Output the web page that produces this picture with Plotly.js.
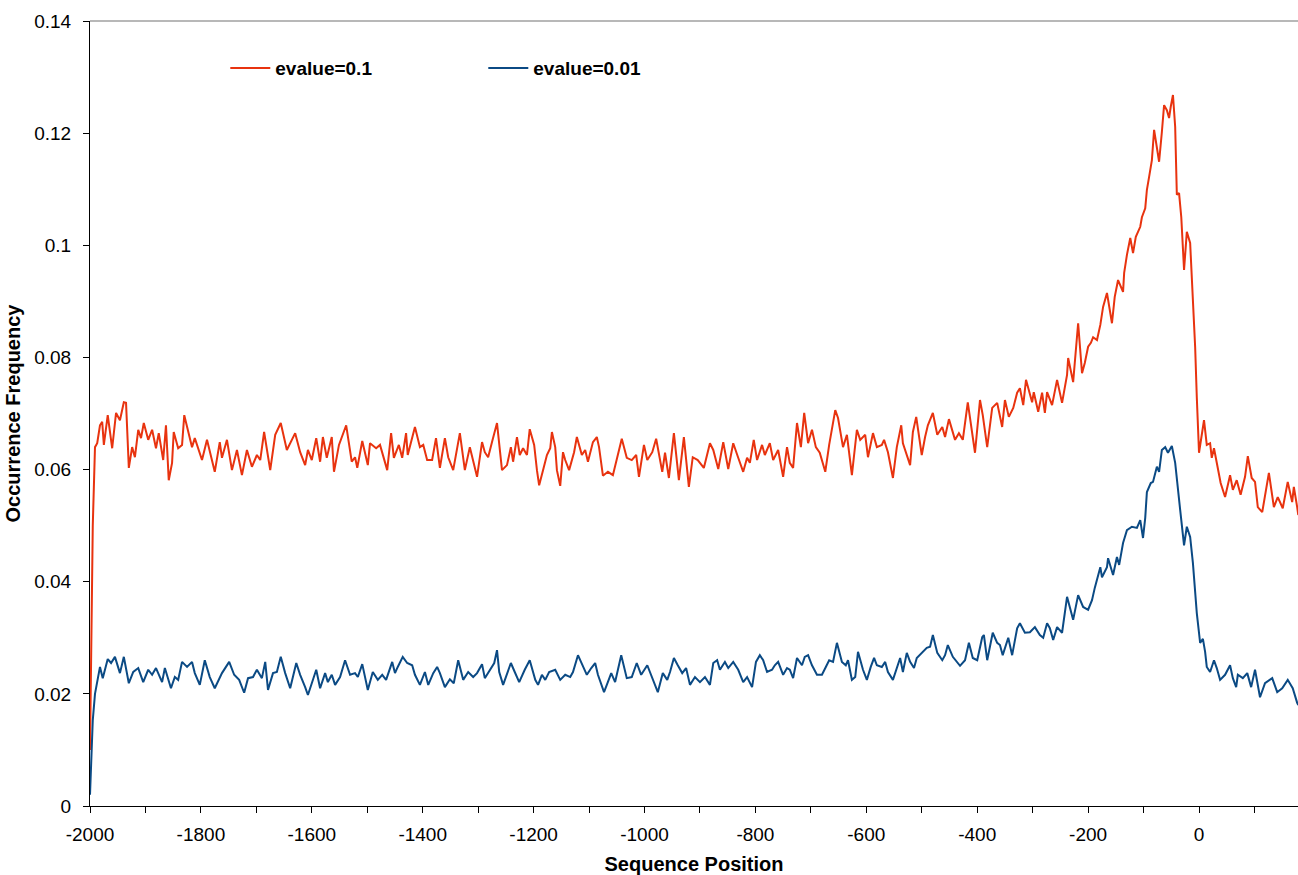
<!DOCTYPE html>
<html>
<head>
<meta charset="utf-8">
<script src="https://cdn.plot.ly/plotly-3.0.1.min.js"></script>
<style>
  html, body { margin: 0; padding: 0; background: #ffffff; }
  #chart { width: 1298px; height: 875px; }
</style>
</head>
<body>
<div id="chart"></div>
<script>
// ---- Data ----
const seriesNames = ["evalue=0.1", "evalue=0.01"];

const redPos = [-2000,-1998,-1995,-1991,-1987,-1982,-1978,-1975,-1968,-1960,-1953,-1946,-1939,-1935,-1930,-1924,-1919,-1913,-1908,-1903,-1895,-1888,-1881,-1876,-1868,-1863,-1858,-1852,-1849,-1841,-1834,-1830,-1823,-1816,-1811,-1798,-1789,-1775,-1766,-1762,-1753,-1744,-1735,-1726,-1717,-1708,-1699,-1693,-1686,-1675,-1666,-1656,-1645,-1630,-1621,-1612,-1607,-1600,-1592,-1585,-1580,-1573,-1564,-1560,-1551,-1544,-1538,-1528,-1522,-1518,-1509,-1499,-1495,-1484,-1477,-1464,-1457,-1452,-1443,-1437,-1430,-1427,-1414,-1405,-1399,-1392,-1383,-1376,-1369,-1360,-1354,-1345,-1333,-1324,-1315,-1302,-1293,-1288,-1282,-1275,-1266,-1257,-1248,-1241,-1237,-1230,-1225,-1219,-1212,-1207,-1199,-1194,-1190,-1183,-1176,-1170,-1167,-1161,-1158,-1152,-1147,-1143,-1136,-1127,-1122,-1113,-1107,-1102,-1093,-1086,-1082,-1075,-1066,-1057,-1050,-1041,-1032,-1023,-1015,-1010,-1001,-995,-986,-979,-968,-963,-956,-947,-938,-929,-920,-913,-904,-893,-882,-876,-867,-858,-849,-840,-831,-822,-815,-810,-803,-797,-788,-783,-774,-768,-759,-750,-743,-738,-732,-725,-718,-712,-705,-698,-691,-684,-674,-667,-656,-651,-642,-635,-626,-617,-611,-602,-597,-588,-581,-572,-568,-561,-552,-545,-537,-534,-521,-516,-510,-500,-494,-489,-480,-472,-463,-458,-451,-440,-433,-426,-417,-404,-395,-390,-382,-373,-364,-355,-350,-343,-335,-328,-323,-317,-312,-301,-298,-290,-283,-278,-274,-265,-256,-247,-238,-236,-227,-218,-211,-206,-200,-195,-191,-184,-178,-173,-166,-157,-152,-146,-137,-135,-130,-124,-119,-114,-106,-103,-97,-94,-90,-85,-81,-76,-72,-67,-63,-58,-54,-51,-47,-43,-40,-36,-32,-27,-22,-16,-11,-7,-4,0,9,14,20,23,27,32,39,47,56,61,68,75,83,88,95,101,106,114,119,126,135,142,151,160,168,171,177,179];
const redVal = [0.0100,0.0300,0.0500,0.0640,0.0647,0.0679,0.0685,0.0644,0.0697,0.0638,0.0701,0.0688,0.0720,0.0719,0.0603,0.0640,0.0622,0.0671,0.0656,0.0683,0.0653,0.0671,0.0638,0.0665,0.0617,0.0679,0.0581,0.0612,0.0667,0.0638,0.0644,0.0697,0.0667,0.0640,0.0656,0.0617,0.0653,0.0596,0.0649,0.0621,0.0653,0.0599,0.0635,0.0590,0.0635,0.0605,0.0626,0.0617,0.0667,0.0599,0.0662,0.0683,0.0635,0.0665,0.0631,0.0608,0.0635,0.0617,0.0656,0.0614,0.0658,0.0621,0.0658,0.0596,0.0644,0.0665,0.0679,0.0614,0.0622,0.0603,0.0651,0.0608,0.0647,0.0638,0.0644,0.0599,0.0665,0.0621,0.0644,0.0621,0.0665,0.0626,0.0676,0.0640,0.0644,0.0617,0.0617,0.0656,0.0603,0.0656,0.0622,0.0599,0.0665,0.0599,0.0640,0.0587,0.0649,0.0631,0.0622,0.0649,0.0683,0.0599,0.0608,0.0640,0.0614,0.0658,0.0626,0.0638,0.0626,0.0672,0.0644,0.0599,0.0572,0.0599,0.0626,0.0638,0.0667,0.0640,0.0599,0.0571,0.0631,0.0617,0.0599,0.0631,0.0658,0.0626,0.0635,0.0614,0.0649,0.0658,0.0640,0.0589,0.0596,0.0590,0.0617,0.0655,0.0621,0.0617,0.0626,0.0587,0.0644,0.0617,0.0631,0.0655,0.0596,0.0630,0.0585,0.0665,0.0581,0.0658,0.0569,0.0622,0.0617,0.0603,0.0647,0.0635,0.0601,0.0649,0.0601,0.0647,0.0621,0.0596,0.0621,0.0612,0.0653,0.0617,0.0644,0.0626,0.0647,0.0617,0.0635,0.0587,0.0640,0.0612,0.0603,0.0683,0.0640,0.0701,0.0647,0.0671,0.0640,0.0630,0.0596,0.0644,0.0706,0.0692,0.0640,0.0662,0.0590,0.0671,0.0653,0.0662,0.0622,0.0665,0.0640,0.0644,0.0653,0.0631,0.0585,0.0640,0.0679,0.0647,0.0608,0.0667,0.0694,0.0626,0.0658,0.0679,0.0701,0.0662,0.0676,0.0658,0.0690,0.0653,0.0665,0.0653,0.0720,0.0630,0.0724,0.0697,0.0640,0.0710,0.0719,0.0676,0.0724,0.0694,0.0710,0.0737,0.0745,0.0715,0.0760,0.0720,0.0738,0.0703,0.0737,0.0701,0.0738,0.0715,0.0760,0.0719,0.0769,0.0799,0.0756,0.0861,0.0772,0.0790,0.0819,0.0826,0.0836,0.0831,0.0858,0.0890,0.0915,0.0861,0.0908,0.0938,0.0917,0.0951,0.0983,0.1013,0.0986,0.1015,0.1033,0.1050,0.1066,0.1099,0.1122,0.1152,0.1206,0.1175,0.1149,0.1202,0.1250,0.1241,0.1227,0.1247,0.1268,0.1211,0.1090,0.1093,0.1050,0.0956,0.1024,0.1004,0.0908,0.0819,0.0729,0.0630,0.0688,0.0644,0.0647,0.0621,0.0638,0.0614,0.0576,0.0551,0.0590,0.0564,0.0581,0.0555,0.0587,0.0624,0.0585,0.0578,0.0533,0.0524,0.0551,0.0594,0.0533,0.0551,0.0531,0.0578,0.0542,0.0569,0.0533,0.0519];

const bluePos = [-2000,-1998,-1995,-1991,-1987,-1982,-1977,-1968,-1962,-1955,-1946,-1939,-1930,-1922,-1913,-1904,-1895,-1888,-1881,-1870,-1865,-1854,-1847,-1841,-1834,-1825,-1816,-1811,-1802,-1793,-1784,-1775,-1762,-1749,-1740,-1731,-1722,-1715,-1706,-1699,-1690,-1684,-1679,-1670,-1663,-1656,-1648,-1639,-1628,-1621,-1612,-1607,-1600,-1592,-1585,-1576,-1571,-1564,-1558,-1549,-1540,-1531,-1522,-1517,-1509,-1499,-1490,-1481,-1473,-1466,-1455,-1450,-1445,-1436,-1428,-1419,-1414,-1405,-1396,-1390,-1381,-1374,-1369,-1360,-1351,-1344,-1336,-1327,-1318,-1309,-1302,-1293,-1288,-1279,-1271,-1266,-1262,-1255,-1248,-1241,-1234,-1226,-1216,-1207,-1197,-1192,-1185,-1179,-1172,-1161,-1152,-1143,-1134,-1129,-1120,-1111,-1104,-1096,-1089,-1084,-1073,-1068,-1060,-1053,-1042,-1032,-1023,-1014,-1006,-995,-986,-976,-967,-959,-954,-947,-940,-932,-925,-918,-909,-900,-891,-882,-876,-869,-864,-855,-849,-840,-831,-822,-815,-806,-799,-792,-786,-779,-770,-765,-759,-750,-743,-738,-732,-725,-716,-711,-705,-698,-689,-680,-673,-667,-660,-653,-644,-637,-633,-626,-620,-615,-606,-599,-592,-586,-581,-572,-566,-561,-552,-545,-539,-534,-527,-521,-514,-509,-500,-491,-485,-480,-472,-463,-458,-453,-444,-436,-431,-422,-415,-408,-400,-391,-388,-382,-377,-372,-364,-359,-354,-344,-337,-328,-323,-314,-305,-296,-287,-281,-274,-269,-263,-256,-247,-238,-227,-218,-209,-200,-193,-188,-178,-175,-166,-164,-155,-148,-144,-137,-130,-121,-112,-106,-101,-97,-94,-87,-83,-76,-72,-67,-61,-56,-49,-43,-34,-27,-22,-16,-11,-4,2,7,11,14,20,27,32,38,47,56,61,67,70,79,87,94,101,110,119,132,141,150,160,169,177,179];
const blueVal = [0.0020,0.0080,0.0153,0.0200,0.0221,0.0248,0.0228,0.0262,0.0255,0.0266,0.0237,0.0266,0.0219,0.0239,0.0246,0.0221,0.0243,0.0234,0.0246,0.0221,0.0246,0.0210,0.0230,0.0225,0.0257,0.0248,0.0257,0.0237,0.0216,0.0260,0.0230,0.0210,0.0237,0.0257,0.0234,0.0225,0.0202,0.0228,0.0230,0.0243,0.0228,0.0257,0.0207,0.0237,0.0239,0.0266,0.0237,0.0210,0.0255,0.0234,0.0212,0.0198,0.0219,0.0243,0.0210,0.0237,0.0221,0.0234,0.0216,0.0230,0.0260,0.0234,0.0237,0.0230,0.0253,0.0207,0.0239,0.0225,0.0234,0.0225,0.0257,0.0237,0.0248,0.0266,0.0255,0.0251,0.0234,0.0216,0.0239,0.0216,0.0237,0.0248,0.0237,0.0212,0.0226,0.0219,0.0260,0.0225,0.0239,0.0230,0.0237,0.0253,0.0228,0.0243,0.0255,0.0278,0.0239,0.0216,0.0237,0.0255,0.0239,0.0221,0.0243,0.0260,0.0225,0.0216,0.0234,0.0225,0.0239,0.0243,0.0225,0.0234,0.0230,0.0239,0.0269,0.0248,0.0234,0.0246,0.0255,0.0234,0.0203,0.0216,0.0237,0.0221,0.0269,0.0228,0.0230,0.0255,0.0234,0.0251,0.0228,0.0203,0.0237,0.0225,0.0239,0.0264,0.0251,0.0237,0.0246,0.0216,0.0230,0.0221,0.0230,0.0216,0.0255,0.0260,0.0243,0.0257,0.0246,0.0257,0.0243,0.0221,0.0230,0.0212,0.0257,0.0269,0.0260,0.0239,0.0243,0.0251,0.0257,0.0234,0.0246,0.0243,0.0228,0.0264,0.0251,0.0266,0.0269,0.0251,0.0234,0.0234,0.0248,0.0260,0.0257,0.0291,0.0257,0.0251,0.0260,0.0225,0.0230,0.0275,0.0243,0.0225,0.0248,0.0264,0.0251,0.0248,0.0257,0.0239,0.0225,0.0248,0.0264,0.0239,0.0273,0.0257,0.0246,0.0264,0.0273,0.0282,0.0284,0.0305,0.0273,0.0260,0.0269,0.0287,0.0266,0.0257,0.0250,0.0260,0.0291,0.0264,0.0260,0.0301,0.0305,0.0260,0.0284,0.0309,0.0291,0.0287,0.0269,0.0300,0.0269,0.0317,0.0326,0.0309,0.0310,0.0319,0.0305,0.0300,0.0326,0.0317,0.0296,0.0319,0.0309,0.0373,0.0332,0.0376,0.0355,0.0350,0.0367,0.0389,0.0426,0.0408,0.0426,0.0442,0.0412,0.0444,0.0430,0.0469,0.0492,0.0498,0.0496,0.0510,0.0478,0.0514,0.0560,0.0576,0.0578,0.0605,0.0596,0.0635,0.0640,0.0630,0.0642,0.0612,0.0528,0.0465,0.0498,0.0480,0.0433,0.0344,0.0291,0.0298,0.0275,0.0248,0.0239,0.0260,0.0246,0.0225,0.0234,0.0251,0.0228,0.0212,0.0234,0.0228,0.0237,0.0212,0.0243,0.0194,0.0219,0.0228,0.0203,0.0210,0.0225,0.0210,0.0184,0.0180];

const xTickVals = [-2000,-1800,-1600,-1400,-1200,-1000,-800,-600,-400,-200,0];
const xTickText = ["-2000","-1800","-1600","-1400","-1200","-1000","-800","-600","-400","-200","0"];
const yTickVals = [0,0.02,0.04,0.06,0.08,0.1,0.12,0.14];
const yTickText = ["0","0.02","0.04","0.06","0.08","0.1","0.12","0.14"];

// ---- Chart ----
const FONT = '"Liberation Sans", Arial, sans-serif';

const traces = [
  { x: redPos, y: redVal, name: seriesNames[0], type: 'scatter', mode: 'lines',
    line: { color: '#E8330F', width: 2 } },
  { x: bluePos, y: blueVal, name: seriesNames[1], type: 'scatter', mode: 'lines',
    line: { color: '#0B4A84', width: 2 } }
];

const layout = {
  width: 1298, height: 875,
  paper_bgcolor: '#ffffff', plot_bgcolor: '#ffffff',
  margin: { l: 90, r: 0, t: 21, b: 69, pad: 0 },
  font: { family: FONT, size: 19, color: '#000000' },
  showlegend: true,
  legend: {
    orientation: 'h', x: 0.112, y: 0.94, xanchor: 'left', yanchor: 'middle',
    entrywidth: 203, entrywidthmode: 'pixels', itemwidth: 40,
    font: { family: FONT, size: 19, color: '#000000', weight: 'bold' },
    bgcolor: 'rgba(0,0,0,0)'
  },
  xaxis: {
    range: [-2000, 178.5], autorange: false,
    showgrid: false, zeroline: false,
    showline: true, linecolor: '#000000', linewidth: 1,
    ticks: 'outside', ticklen: 6, tickcolor: '#000000',
    ticklabelstandoff: 5,
    tickmode: 'array', tickvals: xTickVals, ticktext: xTickText,
    minor: { tickmode: 'linear', tick0: -2000, dtick: 100, ticks: 'outside', ticklen: 6, tickcolor: '#000000', showgrid: false },
    tickfont: { family: FONT, size: 19, color: '#000000' },
    title: { text: 'Sequence Position', font: { family: FONT, size: 20, color: '#000000', weight: 'bold' }, standoff: 16 }
  },
  yaxis: {
    range: [0, 0.14], autorange: false,
    showgrid: false, zeroline: false,
    showline: true, linecolor: '#000000', linewidth: 1,
    ticks: 'outside', ticklen: 6, tickcolor: '#000000',
    ticklabelstandoff: 8,
    tickmode: 'array', tickvals: yTickVals, ticktext: yTickText,
    tickfont: { family: FONT, size: 19, color: '#000000' },
    title: { text: 'Occurrence Frequency', font: { family: FONT, size: 20, color: '#000000', weight: 'bold' }, standoff: 8 }
  },
  shapes: [
    { type: 'line', xref: 'paper', yref: 'paper', x0: 0, x1: 1, y0: 1, y1: 1,
      line: { color: '#A0A0A0', width: 1.5 } }
  ]
};

Plotly.newPlot('chart', traces, layout, { displayModeBar: false, staticPlot: true });
</script>
</body>
</html>
